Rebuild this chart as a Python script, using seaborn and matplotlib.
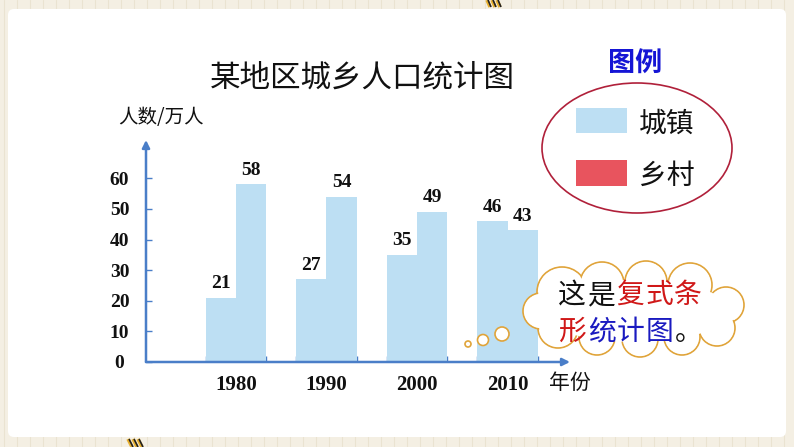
import matplotlib
matplotlib.use('Agg')
import matplotlib.pyplot as plt
import seaborn as sns
import pandas as pd
from matplotlib.patches import FancyBboxPatch, Ellipse, Circle, Rectangle

# ---- data ----
years = ['1980', '1990', '2000', '2010']
urban = [21, 27, 35, 46]
rural = [58, 54, 49, 43]
series_names = ['城镇', '乡村']
y_ticks = [0, 10, 20, 30, 40, 50, 60]
title = '某地区城乡人口统计图'
y_label = '人数/万人'
x_label = '年份'
legend_title = '图例'
bubble_line1 = [('这', 'k'), ('是', 'k'), ('复', 'r'), ('式', 'r'), ('条', 'r')]
bubble_line2 = [('形', 'r'), ('统', 'b'), ('计', 'b'), ('图', 'b'), ('。', 'k')]

sns.set_theme(style='white')
plt.rcParams['font.family'] = ['Noto Sans CJK SC', 'DejaVu Sans']
plt.rcParams['text.color'] = '#111111'
plt.rcParams['xtick.color'] = '#111111'
plt.rcParams['ytick.color'] = '#111111'

BLUE_BAR = '#BDDFF3'
RED_BAR = '#E8545E'
AXIS_BLUE = '#4A7EC8'
TXT_COL = {'k': '#111111', 'r': '#D01818', 'b': '#1A1AC0'}
SERIF = 'Liberation Serif'

df = pd.DataFrame({
    '年份': years * 2,
    '人数': urban + rural,
    '类别': [series_names[0]] * len(years) + [series_names[1]] * len(years),
})

W, H = 794, 447
fig = plt.figure(figsize=(W / 100, H / 100), dpi=100)
fig.patch.set_facecolor('#F4EFE3')

# ---- background ----
bg = fig.add_axes([0, 0, 1, 1], zorder=0)
bg.set_xlim(0, W)
bg.set_ylim(H, 0)
bg.axis('off')
for x in range(4, W, 13):
    bg.axvline(x, color='#EAE3D1', lw=0.8, zorder=1)
bg.add_patch(FancyBboxPatch((14, 15), 766, 416, boxstyle='round,pad=6',
                            fc='white', ec='none', zorder=3))
# small decorations
for dx in (0, 5, 10):
    bg.plot([487 + dx, 490 + dx], [0, 7], color='#E8B030', lw=2.5,
            solid_capstyle='butt', zorder=4)
    bg.plot([488 + dx, 491 + dx], [0, 7], color='#222222', lw=1.2,
            solid_capstyle='butt', zorder=4)
    bg.plot([128 + dx, 132 + dx], [439, 447], color='#E8B030', lw=2.5,
            solid_capstyle='butt', zorder=4)
    bg.plot([129 + dx, 133 + dx], [439, 447], color='#222222', lw=1.2,
            solid_capstyle='butt', zorder=4)

# ---- main chart ----
ax = fig.add_axes([146 / W, 85 / H, 424 / W, 222 / H], zorder=1)
ax.patch.set_alpha(0)
sns.barplot(data=df, x='年份', y='人数', hue='类别', order=years,
            hue_order=series_names, palette=[BLUE_BAR, BLUE_BAR],
            width=0.667, saturation=1, legend=False, ax=ax, errorbar=None,
            linewidth=0, edgecolor=BLUE_BAR)
ax.set_xlim(-0.994, 3.69)
ax.set_ylim(0, 72.5)
for c in ax.containers:
    ax.bar_label(c, padding=4, fontfamily=SERIF, fontweight='bold',
                 fontsize=14, color='#111111')

ax.set_xlabel('')
ax.set_ylabel('')
for s in ax.spines.values():
    s.set_visible(False)

ax.set_yticks(y_ticks)
ax.set_yticklabels([str(v) for v in y_ticks], fontfamily=SERIF,
                   fontweight='bold', fontsize=14, color='#111111')
for lbl in ax.get_yticklabels():
    lbl.set_horizontalalignment('center')
ax.tick_params(axis='y', direction='in', length=4, width=1, color=AXIS_BLUE,
               pad=19, left=True)

ax.set_xticks(range(len(years)))
ax.set_xticklabels(years, fontfamily=SERIF, fontweight='bold', fontsize=15,
                   color='#111111')
ax.set_xticks([i + d for i in range(len(years)) for d in (-0.333, 0.333)], minor=True)
ax.tick_params(axis='x', which='both', direction='in', length=4, width=1,
               color=AXIS_BLUE, pad=9, bottom=True)

ax.annotate('', xy=(1, 0), xytext=(0, 0), xycoords='axes fraction',
            arrowprops=dict(arrowstyle='-|>', color=AXIS_BLUE, lw=1.8,
                            mutation_scale=11, shrinkA=0, shrinkB=0))
ax.annotate('', xy=(0, 1), xytext=(0, 0), xycoords='axes fraction',
            arrowprops=dict(arrowstyle='-|>', color=AXIS_BLUE, lw=1.8,
                            mutation_scale=11, shrinkA=0, shrinkB=0))

# ---- overlay (text, legend, bubble) ----
ov = fig.add_axes([0, 0, 1, 1], zorder=2)
ov.patch.set_alpha(0)
ov.set_xlim(0, W)
ov.set_ylim(H, 0)
ov.axis('off')

ov.text(362, 78, title, fontsize=22, ha='center', va='center',
        color='#111111', fontweight='medium')
ov.text(161, 117, y_label, fontsize=14, ha='center', va='center',
        color='#111111', fontweight='medium')
ov.text(570, 383, x_label, fontsize=15, ha='center', va='center',
        color='#111111', fontweight='medium')

# legend
ov.text(635, 64, legend_title, fontsize=19.5, ha='center', va='center',
        color='#1515D5', fontweight='bold')
ov.add_patch(Ellipse((637, 148), 190, 130, fc='none', ec='#B0203A', lw=1.2))
ov.add_patch(Rectangle((576, 108), 51, 25, fc=BLUE_BAR, ec='none'))
ov.add_patch(Rectangle((576, 160), 51, 26, fc=RED_BAR, ec='none'))
ov.text(667, 124, series_names[0], fontsize=20, ha='center', va='center',
        color='#111111', fontweight='medium')
ov.text(667, 176, series_names[1], fontsize=20, ha='center', va='center',
        color='#111111', fontweight='medium')

# thought bubble
lobes = [(562, 292, 25), (602, 284, 22), (646, 282, 21), (690, 285, 22),
         (726, 305, 18), (717, 328, 18), (682, 337, 18), (640, 339, 18),
         (597, 337, 18), (558, 328, 20), (541, 311, 18)]
EDGE = '#E0A43A'
for (cx, cy, r) in lobes:
    ov.add_patch(Circle((cx, cy), r, fc='white', ec=EDGE, lw=1.2))
for (cx, cy, r) in lobes:
    ov.add_patch(Circle((cx, cy), r - 1.2, fc='white', ec='none'))
ov.add_patch(Ellipse((635, 311), 190, 62, fc='white', ec='none'))
for (cx, cy, r) in [(468, 344, 3), (483, 340, 5.5), (502, 334, 7)]:
    ov.add_patch(Circle((cx, cy), r, fc='white', ec=EDGE, lw=1.2))

for i, (ch, col) in enumerate(bubble_line1):
    ov.text(572 + 29 * i, 295, ch, fontsize=20, ha='center', va='center',
            color=TXT_COL[col])
for i, (ch, col) in enumerate(bubble_line2):
    ov.text(573 + 29 * i, 332, ch, fontsize=20, ha='center', va='center',
            color=TXT_COL[col])

fig.savefig('out.png', dpi=100, facecolor=fig.get_facecolor())
